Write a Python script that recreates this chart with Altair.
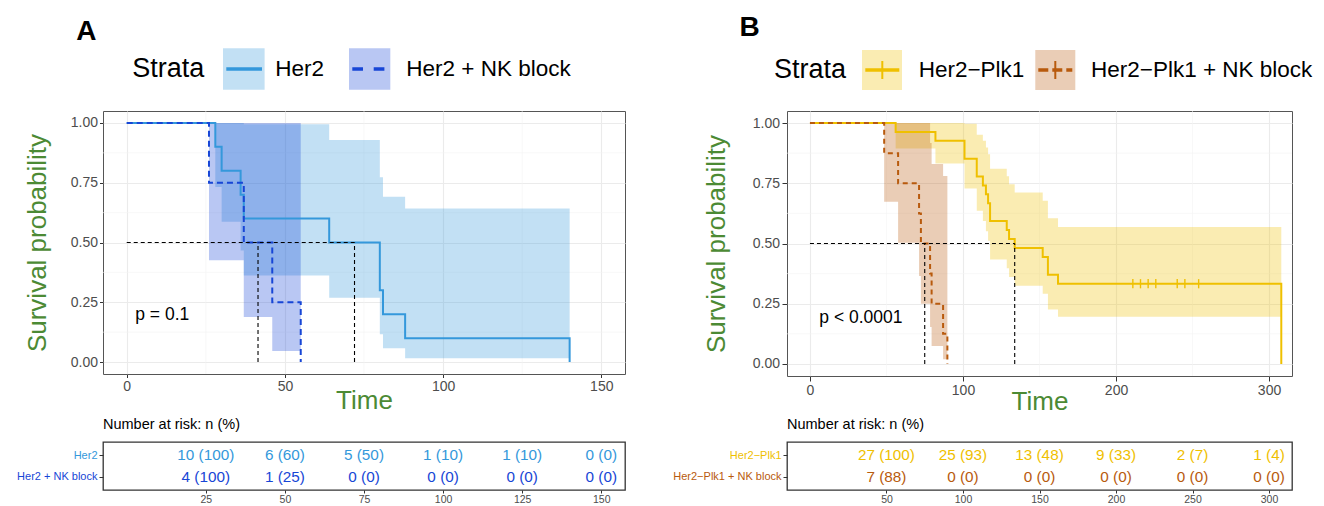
import altair as alt
import pandas as pd

FONT = "Liberation Sans"
GREEN = "#4C8A34"
LABEL_GREY = "#4D4D4D"
DARK = "#333333"

Y_TICKS = [0.0, 0.25, 0.5, 0.75, 1.0]
Y_MINOR = [0.125, 0.375, 0.625, 0.875]

# ---------------- Panel A ----------------
A_STRATA = ["Her2", "Her2 + NK block"]
A_COLORS = ["#3498DB", "#1746D6"]
A_DASHES = [[1, 0], [6, 4]]

her2_time = [0, 28, 30, 36, 37, 64, 80, 81, 88, 140]
her2_surv = [1.0, 0.9, 0.8, 0.7, 0.6, 0.5, 0.3, 0.2, 0.1, 0.0]
her2_lower = [1.0, 0.732, 0.587, 0.467, 0.362, 0.269, 0.116, 0.058, 0.016, 0.016]
her2_upper = [1.0, 1.0, 1.0, 1.0, 0.995, 0.929, 0.773, 0.691, 0.642, 0.642]

her2nk_time = [0, 26, 37, 46, 55]
her2nk_surv = [1.0, 0.75, 0.5, 0.25, 0.0]
her2nk_lower = [1.0, 0.426, 0.188, 0.046, 0.046]
her2nk_upper = [1.0, 1.0, 1.0, 1.0, 1.0]

A_MEDIANS = [72, 41.5]
A_PVAL = "p = 0.1"
A_XTICKS = [0, 50, 100, 150]
A_XMINOR = [25, 75, 125]
A_XDOMAIN = [-7.5, 157.5]

A_RISK_TIMES = [25, 50, 75, 100, 125, 150]
A_RISK_1 = ["10 (100)", "6 (60)", "5 (50)", "1 (10)", "1 (10)", "0 (0)"]
A_RISK_2 = ["4 (100)", "1 (25)", "0 (0)", "0 (0)", "0 (0)", "0 (0)"]

# ---------------- Panel B ----------------
B_STRATA = ["Her2\u2212Plk1", "Her2\u2212Plk1 + NK block"]
B_COLORS = ["#EFC000", "#B85A0D"]
B_DASHES = [[1, 0], [5, 4]]

plk_time = [0, 56, 82, 101, 109, 113, 115, 116.4, 117.7, 128.6, 130.1, 133.8, 152.1, 155.5, 162.1, 308]
plk_surv = [1.0, 0.963, 0.926, 0.852, 0.778, 0.741, 0.704, 0.667, 0.593, 0.556, 0.519, 0.481, 0.444, 0.370, 0.333, 0.0]
plk_lower = [1.0, 0.894, 0.832, 0.728, 0.636, 0.593, 0.551, 0.511, 0.434, 0.397, 0.361, 0.325, 0.291, 0.226, 0.196, 0.196]
plk_upper = [1.0, 1.0, 1.0, 0.997, 0.951, 0.926, 0.899, 0.870, 0.810, 0.779, 0.746, 0.712, 0.677, 0.605, 0.568, 0.568]
plk_censor_time = [211, 216, 221, 226, 240, 245, 254]
plk_censor_surv = [0.333, 0.333, 0.333, 0.333, 0.333, 0.333, 0.333]

plknk_time = [0, 48.5, 57.6, 71.3, 72.5, 78.5, 79.5, 87, 89.8]
plknk_surv = [1.0, 0.875, 0.75, 0.625, 0.5, 0.375, 0.25, 0.125, 0.0]
plknk_lower = [1.0, 0.673, 0.503, 0.365, 0.25, 0.153, 0.075, 0.02, 0.02]
plknk_upper = [1.0, 1.0, 1.0, 1.0, 1.0, 0.917, 0.83, 0.78, 0.78]

B_MEDIANS = [133.8, 75]
B_PVAL = "p < 0.0001"
B_XTICKS = [0, 100, 200, 300]
B_XMINOR = [50, 150, 250]
B_XDOMAIN = [-15, 315]

B_RISK_TIMES = [50, 100, 150, 200, 250, 300]
B_RISK_1 = ["27 (100)", "25 (93)", "13 (48)", "9 (33)", "2 (7)", "1 (4)"]
B_RISK_2 = ["7 (88)", "0 (0)", "0 (0)", "0 (0)", "0 (0)", "0 (0)"]


def curve_frame(strata, times, survs, lowers, uppers):
    rows = []
    for name, t, s, lo, hi in zip(strata, times, survs, lowers, uppers):
        for ti, si, li, ui in zip(t, s, lo, hi):
            rows.append({"strata": name, "t": ti, "s": si, "lo": li, "hi": ui})
    return pd.DataFrame(rows)


def km_chart(df, strata, colors, dashes, xdomain, xticks, xminor, medians,
             pval, pval_t, pval_s, censor, width, height,
             tick_size, label_pad, ytitle_pad, xtitle_pad):
    xs = alt.Scale(domain=xdomain, nice=False, zero=False)
    ys = alt.Scale(domain=[-0.05, 1.05], nice=False, zero=False)
    color = alt.Color("strata:N", scale=alt.Scale(domain=strata, range=colors), legend=None)
    common = dict(domain=False, grid=True, gridColor="#EBEBEB", gridWidth=1.1,
                  tickColor=DARK, tickSize=tick_size, tickWidth=1,
                  labelColor=LABEL_GREY, labelFont=FONT, labelFontSize=14,
                  labelPadding=label_pad, labelFlush=False,
                  titleColor=GREEN, titleFont=FONT, titleFontSize=26,
                  titleFontWeight="normal")
    xaxis = alt.Axis(values=xticks, title="Time", titlePadding=xtitle_pad, **common)
    yaxis = alt.Axis(values=Y_TICKS, format=".2f", title="Survival probability",
                     titlePadding=ytitle_pad, **common)

    def X(f):
        return alt.X(f, scale=xs, axis=xaxis)

    def Y(f, **kw):
        return alt.Y(f, scale=ys, axis=yaxis, **kw)

    minor_x = alt.Chart(pd.DataFrame({"t": xminor})).mark_rule(
        color="#F3F3F3", strokeWidth=0.6).encode(x=X("t:Q"))
    minor_y = alt.Chart(pd.DataFrame({"s": Y_MINOR})).mark_rule(
        color="#F3F3F3", strokeWidth=0.6).encode(y=Y("s:Q"))
    bands = alt.Chart(df).mark_area(interpolate="step-after", opacity=0.3).encode(
        x=X("t:Q"),
        y=Y("lo:Q", stack=None),
        y2="hi:Q",
        color=color,
    )
    lines = alt.Chart(df).mark_line(interpolate="step-after", strokeWidth=2).encode(
        x=X("t:Q"), y=Y("s:Q"), color=color,
        strokeDash=alt.StrokeDash("strata:N", scale=alt.Scale(domain=strata, range=dashes), legend=None),
    )
    med_h = alt.Chart(pd.DataFrame({"t": [0], "t2": [max(medians)], "s": [0.5]})).mark_rule(
        color="black", strokeWidth=1.1, strokeDash=[4, 3]).encode(x=X("t:Q"), x2="t2:Q", y=Y("s:Q"))
    med_v = alt.Chart(pd.DataFrame({"t": medians, "s": [0.0] * len(medians),
                                    "s2": [0.5] * len(medians)})).mark_rule(
        color="black", strokeWidth=1.1, strokeDash=[4, 3]).encode(x=X("t:Q"), y=Y("s:Q"), y2="s2:Q")
    ptext = alt.Chart(pd.DataFrame({"t": [pval_t], "s": [pval_s], "lab": [pval]})).mark_text(
        font=FONT, fontSize=17.5, align="left", baseline="middle", color="black").encode(
        x=X("t:Q"), y=Y("s:Q"), text="lab:N")
    layers = [minor_x, minor_y, bands, lines, med_h, med_v]
    if censor is not None:
        cdf = pd.DataFrame({"t": censor[0], "s": censor[1], "strata": strata[0]})
        layers.append(alt.Chart(cdf).mark_point(shape="M0,-1L0,1", size=85, filled=False,
                                                strokeWidth=1.4, opacity=1).encode(
            x=X("t:Q"), y=Y("s:Q"), color=color))
    layers.append(ptext)
    return alt.layer(*layers).properties(
        width=width, height=height,
        view=alt.ViewBackground(stroke="#555555", strokeWidth=1, fill="white"))


def risk_table(strata, colors, times, counts1, counts2, xdomain, width, height):
    rows = []
    for name, counts in zip(strata, [counts1, counts2]):
        for t, c in zip(times, counts):
            rows.append({"strata": name, "t": t, "n": c})
    df = pd.DataFrame(rows)
    color = alt.Color("strata:N", scale=alt.Scale(domain=strata, range=colors), legend=None)
    text = alt.Chart(df).mark_text(font=FONT, fontSize=15.3).encode(
        x=alt.X("t:Q", scale=alt.Scale(domain=xdomain, nice=False, zero=False),
                axis=alt.Axis(values=times, title=None, grid=False, domain=False,
                              tickSize=3, tickColor=DARK, labelFont=FONT, labelFontSize=10.5,
                              labelColor=LABEL_GREY, labelPadding=1, labelFlush=False)),
        y=alt.Y("strata:N", scale=alt.Scale(type="point", domain=strata, padding=0.6),
                axis=alt.Axis(title=None, grid=False, domain=False, tickSize=4, tickColor=DARK,
                              labelFont=FONT, labelFontSize=11, labelPadding=2,
                              labelColor=alt.condition(f"datum.value == '{strata[0]}'",
                                                       alt.value(colors[0]), alt.value(colors[1])))),
        text="n:N",
        color=color,
    )
    head = alt.Chart(pd.DataFrame({"h": ["Number at risk: n (%)"]})).mark_text(
        font=FONT, fontSize=14.5, align="left", baseline="middle", color="black").encode(
        x=alt.value(0), y=alt.value(-17), text="h:N")
    return alt.layer(text, head).properties(
        width=width, height=height,
        view=alt.ViewBackground(stroke=DARK, strokeWidth=1.3, fill="white"))


def legend_chart(letter, letter_x, letter_y, strata, colors, keys, strata_x, y_mid,
                 key_half, width, height, cross=False, anchor_x=None):
    one = pd.DataFrame({"k": [0]})
    layers = []
    if anchor_x is not None:
        layers.append(alt.Chart(one).mark_rect(opacity=0).encode(
            x=alt.value(anchor_x), x2=alt.value(anchor_x + 1), y=alt.value(0), y2=alt.value(1)))
    layers.append(alt.Chart(pd.DataFrame({"lab": [letter]})).mark_text(
        font=FONT, fontSize=28, fontWeight="bold", align="left", baseline="alphabetic",
        color="black").encode(x=alt.value(letter_x), y=alt.value(letter_y), text="lab:N"))
    layers.append(alt.Chart(pd.DataFrame({"lab": ["Strata"]})).mark_text(
        font=FONT, fontSize=27, align="left", baseline="middle", color="black").encode(
        x=alt.value(strata_x), y=alt.value(y_mid), text="lab:N"))
    for name, col, (rx0, rx1, lx0, lx1, dash, tx) in zip(strata, colors, keys):
        layers.append(alt.Chart(one).mark_rect(color=col, opacity=0.3).encode(
            x=alt.value(rx0), x2=alt.value(rx1),
            y=alt.value(y_mid - key_half), y2=alt.value(y_mid + key_half)))
        layers.append(alt.Chart(one).mark_rule(color=col, strokeWidth=3.5, strokeDash=dash).encode(
            x=alt.value(lx0), x2=alt.value(lx1), y=alt.value(y_mid)))
        if cross:
            cx = (lx0 + lx1) / 2
            layers.append(alt.Chart(one).mark_rule(color=col, strokeWidth=2).encode(
                x=alt.value(cx), y=alt.value(y_mid - 9), y2=alt.value(y_mid + 9)))
        layers.append(alt.Chart(pd.DataFrame({"lab": [name]})).mark_text(
            font=FONT, fontSize=22.5, align="left", baseline="middle", color="black").encode(
            x=alt.value(tx), y=alt.value(y_mid), text="lab:N"))
    return alt.layer(*layers).properties(width=width, height=height)


A_W, A_H = 522, 263
B_W, B_H = 505, 265
ROW_GAP = 66
LEG_H = 35.5

dfA = curve_frame(A_STRATA, [her2_time, her2nk_time], [her2_surv, her2nk_surv],
                  [her2_lower, her2nk_lower], [her2_upper, her2nk_upper])
dfB = curve_frame(B_STRATA, [plk_time, plknk_time], [plk_surv, plknk_surv],
                  [plk_lower, plknk_lower], [plk_upper, plknk_upper])

legA = legend_chart("A", -26.7, 31, A_STRATA, A_COLORS,
                    [(120, 161.6, 123.3, 159, [1, 0], 172.3),
                     (246, 287.3, 249.3, 284, [10.7, 10.7], 303.3)],
                    29.3, 60, 20.8, A_W, LEG_H, cross=False, anchor_x=-93.7)
legB = legend_chart("B", -47.6, 27, B_STRATA, B_COLORS,
                    [(75, 115, 78.3, 112.3, [1, 0], 131.7),
                     (248.3, 288.3, 251.3, 285.3, [10, 4], 304)],
                    -13, 61, 20, B_W, LEG_H, cross=True)

kmA = km_chart(dfA, A_STRATA, A_COLORS, A_DASHES, A_XDOMAIN, A_XTICKS, A_XMINOR, A_MEDIANS,
               A_PVAL, 2.7, 0.195, None, A_W, A_H,
               tick_size=3.5, label_pad=2, ytitle_pad=20, xtitle_pad=-6)
kmB = km_chart(dfB, B_STRATA, B_COLORS, B_DASHES, B_XDOMAIN, B_XTICKS, B_XMINOR, B_MEDIANS,
               B_PVAL, 6.1, 0.189, (plk_censor_time, plk_censor_surv), B_W, B_H,
               tick_size=5, label_pad=2.5, ytitle_pad=23, xtitle_pad=-9)

tabA = risk_table(A_STRATA, A_COLORS, A_RISK_TIMES, A_RISK_1, A_RISK_2, A_XDOMAIN, A_W, 48)
tabB = risk_table(B_STRATA, B_COLORS, B_RISK_TIMES, B_RISK_1, B_RISK_2, B_XDOMAIN, B_W, 48)

chart = alt.concat(
    legA, legB, kmA, kmB, tabA, tabB,
    columns=2,
    spacing={"row": ROW_GAP, "column": 162},
    bounds="flush",
    align="none",
).resolve_scale(
    color="independent", strokeDash="independent"
).properties(padding=0).configure(font=FONT).configure_view(stroke="transparent")

chart.save("out.html", embed_options={"renderer": "svg", "actions": False})
